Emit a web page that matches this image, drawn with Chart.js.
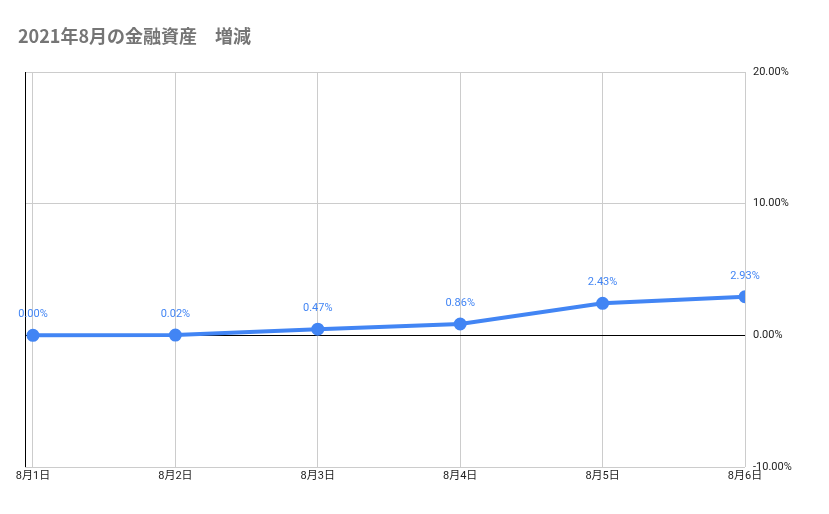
<!DOCTYPE html>
<html>
<head>
<meta charset="utf-8">
<script src="https://cdn.jsdelivr.net/npm/chart.js@4"></script>
<style>
html, body { margin: 0; padding: 0; background: #fff; }
#wrap { width: 829px; height: 514px; }
</style>
</head>
<body>
<div id="wrap"><canvas id="chart" width="829" height="514"></canvas></div>
<script>
// Chart data
const categories = ['8月1日', '8月2日', '8月3日', '8月4日', '8月5日', '8月6日'];
const changeValues = [0.00, 0.02, 0.47, 0.86, 2.43, 2.93];
const yTicks = [-10, 0, 10, 20];
const chartTitle = '2021年8月の金融資産　増減';

const FONT = "Roboto, 'Noto Sans CJK JP', sans-serif";

// Title, left axis line and point labels
const decorPlugin = {
    id: 'decor',
    afterDraw(chart) {
        const ctx = chart.ctx;
        const area = chart.chartArea;
        ctx.save();
        ctx.fillStyle = '#757575';
        ctx.font = "bold 18px 'Noto Sans CJK JP', sans-serif";
        ctx.textBaseline = 'alphabetic';
        ctx.fillText(chartTitle, 18, 43);

        ctx.strokeStyle = '#000';
        ctx.lineWidth = 1;
        ctx.beginPath();
        ctx.moveTo(area.left + 0.5, area.top);
        ctx.lineTo(area.left + 0.5, area.bottom);
        ctx.stroke();

        const meta = chart.getDatasetMeta(0);
        ctx.fillStyle = '#4285f4';
        ctx.font = '11px ' + FONT;
        ctx.textAlign = 'center';
        meta.data.forEach((pt, i) => {
            ctx.fillText(changeValues[i].toFixed(2) + '%', pt.x, pt.y - 18);
        });
        ctx.restore();
    }
};

new Chart(document.getElementById('chart'), {
    type: 'line',
    data: {
        datasets: [{
            data: changeValues.map((v, i) => ({ x: i, y: v })),
            borderColor: '#4285f4',
            backgroundColor: '#4285f4',
            borderWidth: 4,
            pointRadius: 4.5,
            tension: 0
        }]
    },
    options: {
        responsive: false,
        animation: false,
        layout: { padding: { top: 72, left: 25, right: 0, bottom: 0 } },
        plugins: { legend: { display: false }, tooltip: { enabled: false } },
        scales: {
            x: {
                type: 'linear',
                min: -0.056,
                max: 5,
                afterBuildTicks: axis => { axis.ticks = categories.map((c, i) => ({ value: i })); },
                afterFit: axis => { axis.height = 47; },
                ticks: {
                    callback: v => categories[v],
                    color: '#222',
                    font: { size: 11, family: FONT },
                    maxRotation: 0,
                    autoSkip: false
                },
                grid: { color: '#cccccc', drawTicks: false },
                border: { display: false }
            },
            y: {
                position: 'right',
                min: -10,
                max: 20,
                afterBuildTicks: axis => { axis.ticks = yTicks.map(v => ({ value: v })); },
                afterFit: axis => { axis.width = 84; },
                ticks: {
                    callback: v => v.toFixed(2) + '%',
                    color: '#222',
                    font: { size: 11, family: FONT },
                    padding: 8
                },
                grid: {
                    color: ctx => ctx.tick && ctx.tick.value === 0 ? '#000' : '#cccccc',
                    drawTicks: false
                },
                border: { display: false }
            }
        }
    },
    plugins: [decorPlugin]
});
</script>
</body>
</html>
